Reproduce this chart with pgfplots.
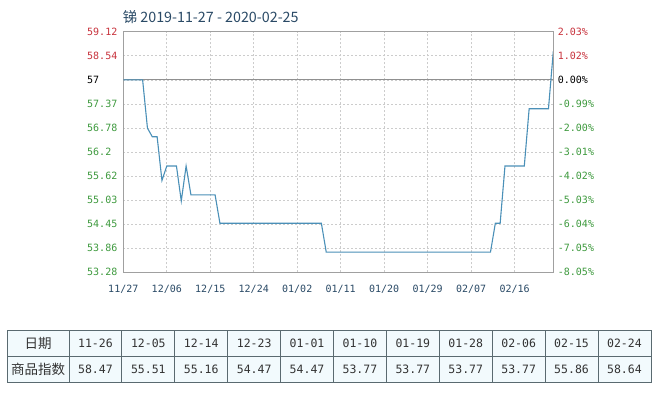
\documentclass[border=0pt]{standalone}
\usepackage{pgfplots}
\pgfplotsset{compat=1.18}
\usepackage{fontspec}
\setmainfont{Liberation Sans}
\newfontfamily\mono{DejaVu Sans Mono}
\newfontfamily\cjk{Noto Sans CJK SC}
\definecolor{lineblue}{HTML}{4A90B8}
\definecolor{redlab}{HTML}{C8323C}
\definecolor{greenlab}{HTML}{3E9A3E}
\definecolor{navy}{HTML}{2A4A66}
\definecolor{gridc}{HTML}{CCCCCC}
\definecolor{axisc}{HTML}{A0A0A0}
\definecolor{cellbg}{HTML}{F2FAFD}
\definecolor{tborder}{HTML}{5A6A70}
\definecolor{ttext}{HTML}{333333}

\begin{document}
\begin{tikzpicture}
\useasboundingbox (0,0) rectangle (661pt,392pt);
\fill[white] (0,0) rectangle (661pt,392pt);
\node[anchor=west, inner sep=0pt, text=navy, font=\cjk\fontsize{14.3}{16}\selectfont] at (122.7pt,375pt) {锑 2019-11-27 - 2020-02-25};
\begin{axis}[
  at={(123.3pt,119.7pt)}, anchor=south west,
  width=430pt, height=240.6pt, scale only axis,
  xmin=0, xmax=89, ymin=53.28, ymax=59.12,
  xtick={0,9,18,27,36,45,54,63,72,81},
  xticklabels={11/27,12/06,12/15,12/24,01/02,01/11,01/20,01/29,02/07,02/16},
  ytick={53.28,53.864,54.448,55.032,55.616,56.2,56.784,57.368,57.952,58.536,59.12},
  yticklabels={
    \textcolor{greenlab}{53.28},\textcolor{greenlab}{53.86},\textcolor{greenlab}{54.45},
    \textcolor{greenlab}{55.03},\textcolor{greenlab}{55.62},\textcolor{greenlab}{56.2},
    \textcolor{greenlab}{56.78},\textcolor{greenlab}{57.37},\textcolor{black}{57},
    \textcolor{redlab}{58.54},\textcolor{redlab}{59.12}},
  major tick length=0pt,
  grid=major,
  grid style={gridc, dash pattern=on 2pt off 2pt, line width=0.6pt},
  axis line style={axisc, line width=1pt},
  xticklabel style={font=\mono\fontsize{10}{12}\selectfont, text=navy, anchor=center, yshift=-16.7pt, inner sep=0pt},
  yticklabel style={font=\mono\fontsize{10}{12}\selectfont, anchor=west, xshift=-36.3pt, inner sep=0pt},
]
\addplot[axisc!90!black, line width=1pt] coordinates {(0,57.952) (89,57.952)};
\addplot[lineblue, line width=1.1pt] coordinates {
  (0,57.952) (4,57.952) (5,56.78) (6,56.57) (7,56.57) (8,55.51) (9,55.86)
  (11,55.86) (12,55.01) (13,55.86) (14,55.16) (19,55.16) (20,54.47)
  (41,54.47) (42,53.77) (76,53.77) (77,54.47) (78,54.47) (79,55.86)
  (83,55.86) (84,57.25) (88,57.25) (89,58.64)
};
\end{axis}
\begin{axis}[
  at={(123.3pt,119.7pt)}, anchor=south west,
  width=430pt, height=240.6pt, scale only axis,
  xmin=0, xmax=89, ymin=53.28, ymax=59.12,
  axis x line=none, axis y line*=right,
  ytick={53.28,53.864,54.448,55.032,55.616,56.2,56.784,57.368,57.952,58.536,59.12},
  yticklabels={
    \textcolor{greenlab}{-8.05\%},\textcolor{greenlab}{-7.05\%},\textcolor{greenlab}{-6.04\%},
    \textcolor{greenlab}{-5.03\%},\textcolor{greenlab}{-4.02\%},\textcolor{greenlab}{-3.01\%},
    \textcolor{greenlab}{-2.00\%},\textcolor{greenlab}{-0.99\%},\textcolor{black}{0.00\%},
    \textcolor{redlab}{1.02\%},\textcolor{redlab}{2.03\%}},
  major tick length=0pt,
  axis line style={axisc, line width=1pt},
  yticklabel style={font=\mono\fontsize{10}{12}\selectfont, anchor=west, xshift=4.4pt, inner sep=0pt},
]
\addplot[draw=none] coordinates {(0,57)};
\end{axis}
% table
\fill[cellbg] (7.3pt,9.7pt) rectangle (651pt,62pt);
\draw[tborder, line width=0.9pt] (7.3pt,9.7pt) rectangle (651pt,62pt);
\draw[tborder, line width=0.9pt] (7.3pt,35.3pt) -- (651pt,35.3pt);
\foreach \k in {0,...,10} {
  \draw[tborder, line width=0.9pt] ({69pt+52.9pt*\k},9.7pt) -- ({69pt+52.9pt*\k},62pt);
}
\node[text=ttext, font=\cjk\fontsize{13.5}{15}\selectfont] at (38.2pt,48.7pt) {日期};
\node[text=ttext, font=\cjk\fontsize{13.5}{15}\selectfont] at (38.2pt,22.5pt) {商品指数};
\foreach \d/\v [count=\i from 0] in {11-26/58.47,12-05/55.51,12-14/55.16,12-23/54.47,01-01/54.47,01-10/53.77,01-19/53.77,01-28/53.77,02-06/53.77,02-15/55.86,02-24/58.64} {
  \node[text=ttext, font=\mono\fontsize{11.5}{14}\selectfont] at ({69pt+52.9pt*(\i+0.5)},48.7pt) {\d};
  \node[text=ttext, font=\mono\fontsize{11.5}{14}\selectfont] at ({69pt+52.9pt*(\i+0.5)},22.5pt) {\v};
}
\end{tikzpicture}
\end{document}
